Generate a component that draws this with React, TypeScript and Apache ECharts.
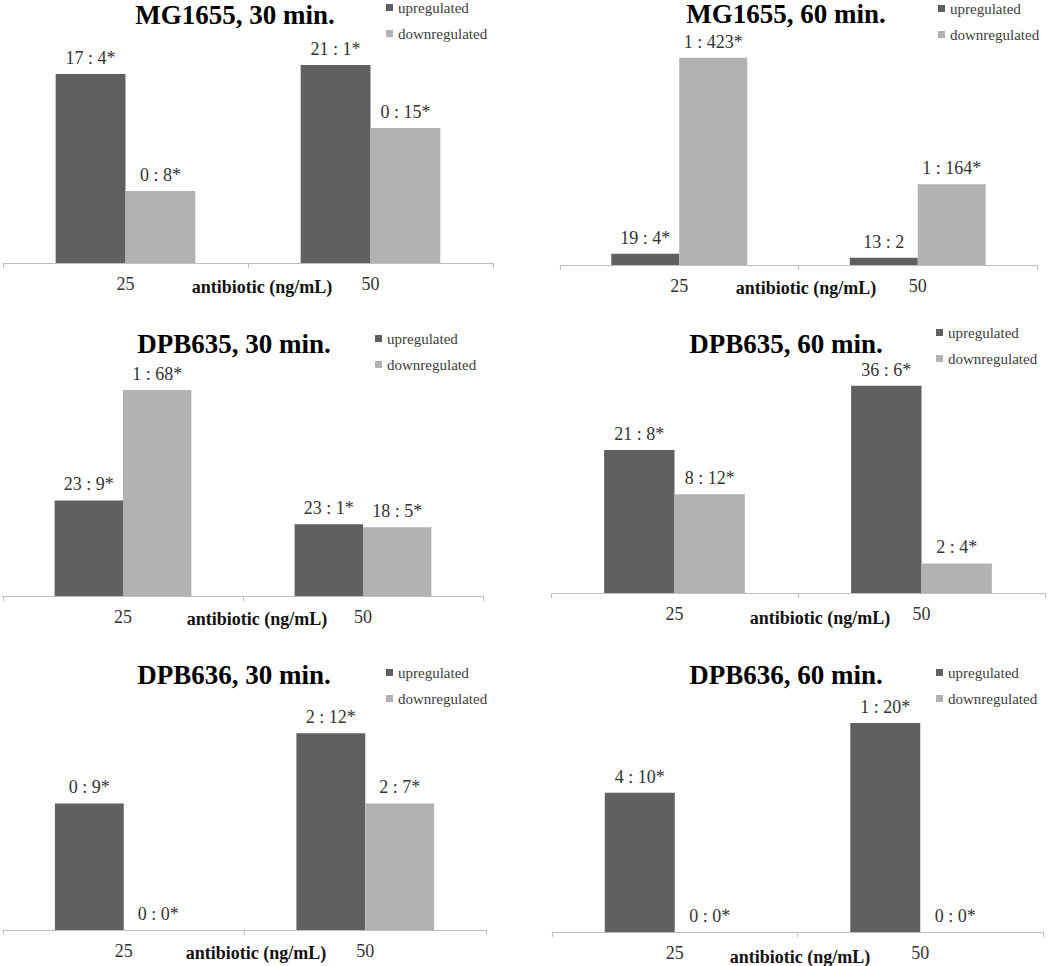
import React, { useEffect, useRef } from "react";
import * as echarts from "echarts";

const categories = ["25", "50"];
const axisName = "antibiotic (ng/mL)";
const seriesNames = ["upregulated", "downregulated"];

const panelTitles = [
  "MG1655, 30 min.",
  "MG1655, 60 min.",
  "DPB635, 30 min.",
  "DPB635, 60 min.",
  "DPB636, 30 min.",
  "DPB636, 60 min.",
];

// bar heights (total number of genes) and their labels
const mg30Up = [21, 22];
const mg30Down = [8, 15];
const mg30UpLabels = ["17 : 4*", "21 : 1*"];
const mg30DownLabels = ["0 : 8*", "0 : 15*"];

const mg60Up = [23, 15];
const mg60Down = [424, 165];
const mg60UpLabels = ["19 : 4*", "13 : 2"];
const mg60DownLabels = ["1 : 423*", "1 : 164*"];

const d635_30Up = [32, 24];
const d635_30Down = [69, 23];
const d635_30UpLabels = ["23 : 9*", "23 : 1*"];
const d635_30DownLabels = ["1 : 68*", "18 : 5*"];

const d635_60Up = [29, 42];
const d635_60Down = [20, 6];
const d635_60UpLabels = ["21 : 8*", "36 : 6*"];
const d635_60DownLabels = ["8 : 12*", "2 : 4*"];

const d636_30Up = [9, 14];
const d636_30Down = [0, 9];
const d636_30UpLabels = ["0 : 9*", "2 : 12*"];
const d636_30DownLabels = ["0 : 0*", "2 : 7*"];

const d636_60Up = [14, 21];
const d636_60Down = [0, 0];
const d636_60UpLabels = ["4 : 10*", "1 : 20*"];
const d636_60DownLabels = ["0 : 0*", "0 : 0*"];

const panelUp = [mg30Up, mg60Up, d635_30Up, d635_60Up, d636_30Up, d636_60Up];
const panelDown = [mg30Down, mg60Down, d635_30Down, d635_60Down, d636_30Down, d636_60Down];
const panelUpLabels = [mg30UpLabels, mg60UpLabels, d635_30UpLabels, d635_60UpLabels, d636_30UpLabels, d636_60UpLabels];
const panelDownLabels = [mg30DownLabels, mg60DownLabels, d635_30DownLabels, d635_60DownLabels, d636_30DownLabels, d636_60DownLabels];
const panelMax = [25, 450, 75, 45, 16, 22];

// layout (pixels)
const layout = [
  { left: 3, width: 490, top: 38, axisY: 263, title: [235, 15], name: [262, 287], legend: [386, 0] },
  { left: 560, width: 477, top: 45, axisY: 265, title: [786, 14], name: [806, 288], legend: [938, 1] },
  { left: 3, width: 480, top: 372, axisY: 596, title: [234, 344], name: [257, 619], legend: [375, 331] },
  { left: 551, width: 494, top: 371, axisY: 593, title: [786, 344], name: [820, 618], legend: [936, 325] },
  { left: 3, width: 483, top: 705, axisY: 930, title: [234, 675], name: [256, 953], legend: [386, 665] },
  { left: 552, width: 491, top: 713, axisY: 932, title: [786, 675], name: [800, 957], legend: [936, 665] },
];

const SERIF = "Liberation Serif";
const DARK = "#606060";
const LIGHT = "#b2b2b2";

export default function App() {
  const ref = useRef<HTMLDivElement>(null);

  useEffect(() => {
    if (!ref.current) return;
    const chart = echarts.init(ref.current, undefined, { renderer: "svg" });

    const grid: any[] = [];
    const xAxis: any[] = [];
    const yAxis: any[] = [];
    const series: any[] = [];
    const legend: any[] = [];
    const graphic: any[] = [];

    layout.forEach((l, i) => {
      grid.push({
        left: l.left,
        top: l.top,
        width: l.width,
        height: l.axisY - l.top,
        containLabel: false,
      });
      xAxis.push({
        type: "category",
        gridIndex: i,
        data: categories,
        axisLine: { show: true, lineStyle: { color: "#bfbfbf", width: 1 } },
        axisTick: { show: true, length: 5, lineStyle: { color: "#bfbfbf" } },
        axisLabel: {
          fontFamily: SERIF,
          fontSize: 18,
          color: "#333333",
          margin: 12,
        },
        splitLine: { show: false },
      });
      yAxis.push({
        type: "value",
        gridIndex: i,
        min: 0,
        max: panelMax[i],
        show: false,
        splitLine: { show: false },
      });
      const mkLabel = (labels: string[]) => ({
        show: true,
        position: "top",
        distance: 7,
        fontFamily: SERIF,
        fontSize: 18,
        color: "#333333",
        formatter: (p: any) => labels[p.dataIndex],
      });
      series.push({
        name: seriesNames[0],
        type: "bar",
        xAxisIndex: i,
        yAxisIndex: i,
        data: panelUp[i],
        itemStyle: { color: DARK },
        barGap: "0%",
        barCategoryGap: "43%",
        label: mkLabel(panelUpLabels[i]),
      });
      series.push({
        name: seriesNames[1],
        type: "bar",
        xAxisIndex: i,
        yAxisIndex: i,
        data: panelDown[i],
        itemStyle: { color: LIGHT },
        barGap: "0%",
        barCategoryGap: "43%",
        label: mkLabel(panelDownLabels[i]),
      });
      legend.push({
        data: seriesNames,
        orient: "vertical",
        left: l.legend[0],
        top: l.legend[1],
        padding: 0,
        itemWidth: 7,
        itemHeight: 7,
        itemGap: 11,
        icon: "rect",
        selectedMode: false,
        textStyle: { fontFamily: SERIF, fontSize: 15, color: "#404040" },
      });
      graphic.push({
        type: "text",
        x: l.title[0],
        y: l.title[1],
        style: {
          text: panelTitles[i],
          textAlign: "center",
          textVerticalAlign: "middle",
          fontFamily: SERIF,
          fontWeight: "bold",
          fontSize: 27,
          fill: "#000000",
        },
      });
      graphic.push({
        type: "text",
        x: l.name[0],
        y: l.name[1],
        style: {
          text: axisName,
          textAlign: "center",
          textVerticalAlign: "middle",
          fontFamily: SERIF,
          fontWeight: "bold",
          fontSize: 18,
          fill: "#111111",
        },
      });
    });

    chart.setOption({
      animation: false,
      backgroundColor: "#ffffff",
      grid,
      xAxis,
      yAxis,
      series,
      legend,
      graphic,
    });

    return () => chart.dispose();
  }, []);

  return (
    <div
      ref={ref}
      style={{ position: "absolute", left: 0, top: 0, width: 1050, height: 966 }}
    />
  );
}
